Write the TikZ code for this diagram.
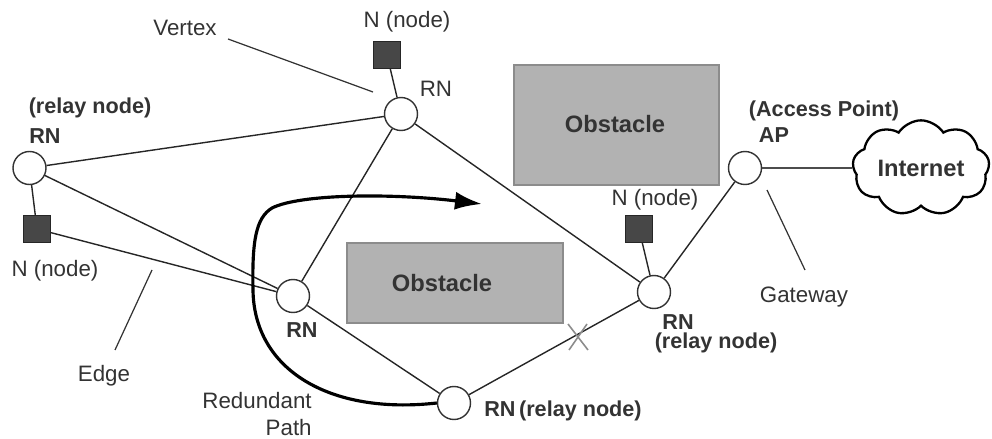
\documentclass[tikz,border=0pt]{standalone}
\usepackage{fontspec}
\setmainfont{Liberation Sans}
\usetikzlibrary{shapes.symbols,arrows.meta,positioning}

\begin{document}
\begin{tikzpicture}[x=0.02cm, y=-0.02cm,
    rn/.style={circle, draw=black!80, fill=white, minimum size=0.66cm, inner sep=0pt, line width=0.8pt},
    sq/.style={rectangle, draw=black!85, fill=black!72, minimum size=0.55cm, inner sep=0pt},
    obst/.style={rectangle, draw=black!45, fill=black!30, line width=0.8pt},
    link/.style={draw=black!85, line width=0.8pt},
    lead/.style={draw=black!80, line width=0.7pt},
    lbl/.style={font=\fontsize{12.7}{15}\selectfont, text=black!80, inner sep=0pt},
    blbl/.style={font=\fontsize{12.3}{15}\selectfont\bfseries, text=black!80, inner sep=0pt},
]
    \useasboundingbox (0,0) rectangle (992,439);
    % obstacles
    \node[obst, minimum width=4.1cm, minimum height=2.4cm] (obsA) at (616.5,125) {};
    \node[obst, minimum width=4.32cm, minimum height=1.6cm] (obsB) at (455,283) {};
    \node[blbl, font=\fontsize{13.5}{15}\selectfont\bfseries] (obsAtxt) at (615,124) {Obstacle};
    \node[blbl, font=\fontsize{13.5}{15}\selectfont\bfseries] (obsBtxt) at (442,283) {Obstacle};
    % relay nodes, sensor nodes, access point
    \node[rn] (rnA) at (29.5,168) {};
    \node[rn] (rnB) at (401,114) {};
    \node[rn] (rnC) at (293,296) {};
    \node[rn] (rnD) at (654,292) {};
    \node[rn] (rnE) at (454,403) {};
    \node[rn] (ap) at (745,168) {};
    \node[sq] (nA) at (37,229) {};
    \node[sq] (nB) at (387,55) {};
    \node[sq] (nC) at (639,229) {};
    \node[cloud, cloud puffs=9, cloud puff arc=115, aspect=1.6, draw=black, line width=1.3pt,
          minimum width=2.74cm, minimum height=1.76cm, inner sep=0pt,
          font=\fontsize{13.5}{15}\selectfont\bfseries, text=black!80] (inet) at (921,168) {Internet};
    % edges
    \draw[link] (rnA) -- (rnB);
    \draw[link] (rnA) -- (rnC);
    \draw[link] (rnA) -- (nA);
    \draw[link] (nA) -- (rnC);
    \draw[link] (rnB) -- (rnC);
    \draw[link] (rnB) -- (rnD);
    \draw[link] (nB) -- (rnB);
    \draw[link] (rnC) -- (rnE);
    \draw[link] (rnE) -- (rnD);
    \draw[link] (nC) -- (rnD);
    \draw[link] (rnD) -- (ap);
    \draw[draw=black!70, line width=0.9pt] (ap) -- (inet);
    % broken link
    \coordinate (brk) at (578,337);
    \draw[black!45, line width=0.9pt] ([shift={(-10,-13)}]brk) -- ([shift={(10,13)}]brk)
        ([shift={(9,-13)}]brk) -- ([shift={(-9,13)}]brk);
    % redundant path
    \coordinate (rpEnd) at (482,204);
    \draw[line width=1.8pt, -{Latex[length=0.54cm, width=0.36cm]}]
        (rnE.west) .. controls (330,415) and (254,370) .. (253,290)
        .. controls (252,240) and (256,218) .. (272,208)
        .. controls (300,194) and (390,193) .. (rpEnd);
    % leader lines
    \coordinate (vtxEnd) at (373,92);
    \coordinate (edgEnd) at (152,270);
    \coordinate (gwEnd) at (767,190);
    \node[lbl] (vtx) at (185,28) {Vertex};
    \node[lbl] (edg) at (104,376) {Edge};
    \node[lbl] (gw) at (804,297) {Gateway};
    \draw[lead] (228,39) -- (vtxEnd);
    \draw[lead] (115,350) -- (edgEnd);
    \draw[lead] (805,270) -- (gwEnd);
    % labels
    \node[lbl] (nBl) at (407,22) {N (node)};
    \node[lbl] (nAl) at (55,271) {N (node)};
    \node[lbl] (nCl) at (655,200) {N (node)};
    \node[lbl] (rnBl) at (436,89) {RN};
    \node[blbl] (rnAl) at (45,136) {RN};
    \node[blbl] (rnAr) at (90,108) {(relay node)};
    \node[blbl] (rnCl) at (302,330) {RN};
    \node[blbl] (rnDl) at (678,322) {RN};
    \node[blbl] (rnDr) at (716,343) {(relay node)};
    \node[blbl, anchor=west] (rnEl) at (484,411) {RN\,(relay node)};
    \node[blbl] (apl) at (774,135) {AP};
    \node[blbl] (apr) at (824,111) {(Access Point)};
    \node[lbl, align=right, anchor=east] (rpl) at (312,414) {Redundant\\Path};
\end{tikzpicture}
\end{document}
